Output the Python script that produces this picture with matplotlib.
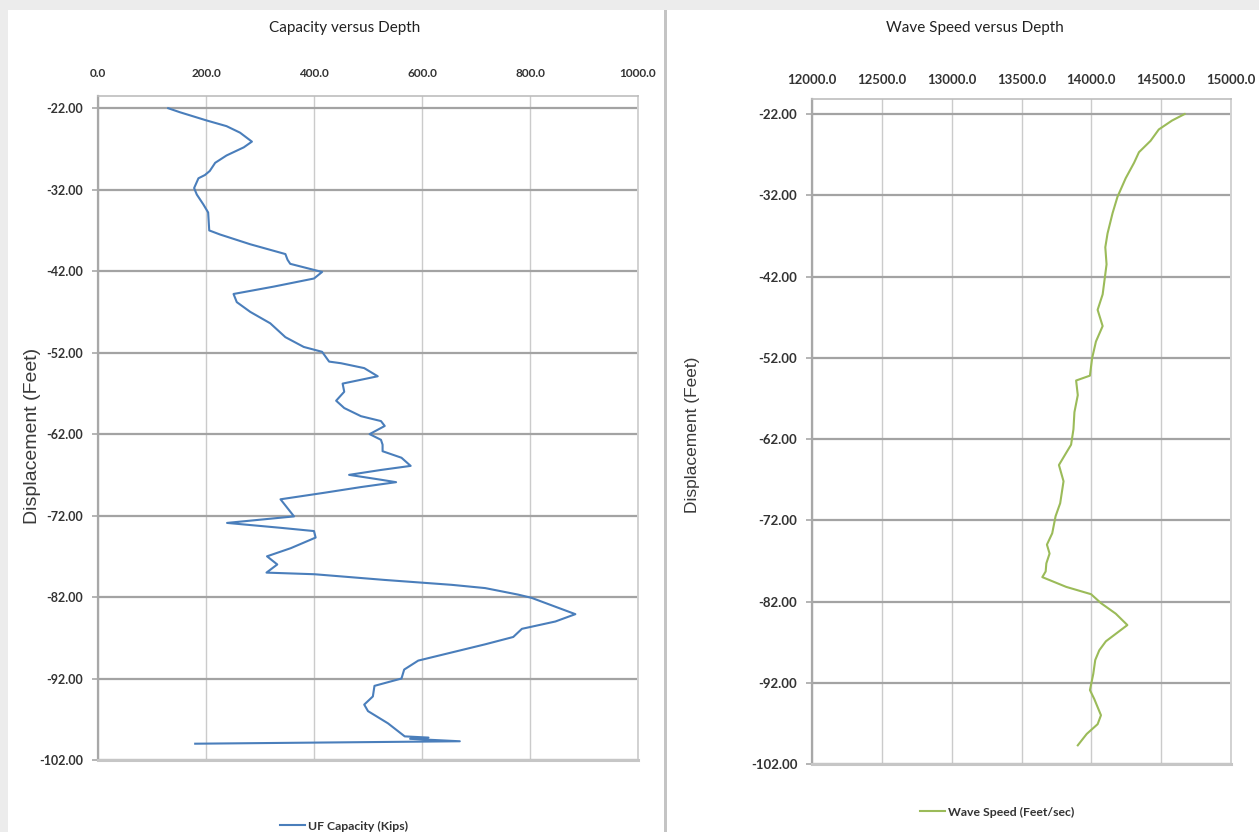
import matplotlib
matplotlib.use("Agg")
import matplotlib.pyplot as plt
from matplotlib.patches import Rectangle
from matplotlib.ticker import FuncFormatter, FixedLocator

plt.rcParams["axes.unicode_minus"] = False

# ---- Pile capacity profile (kips) vs. displacement (feet) ----
capacity_kips = [
    130, 152, 201, 238, 263, 285, 270, 238, 217, 207, 198, 186, 178, 183, 195, 204,
    206, 226, 282, 347, 351, 356, 415, 400, 325, 251, 257, 282, 319, 347, 381, 415,
    428, 450, 493, 518, 453, 456, 441, 456, 487, 524, 531, 503, 524, 527, 527, 562,
    579, 524, 465, 524, 552, 487, 419, 338, 363, 239, 338, 400, 403, 357, 313, 332,
    312, 401, 531, 655, 717, 778, 803, 884, 847, 785, 769, 717, 655, 593, 567, 562,
    512, 509, 493, 500, 537, 568, 612, 578, 670, 180,
]
capacity_depth_ft = [
    -22.0, -22.5, -23.5, -24.2, -25.0, -26.1, -26.8, -27.8, -28.7, -29.7, -30.2, -30.6,
    -31.8, -32.6, -33.8, -34.8, -37.0, -37.5, -38.7, -39.9, -40.6, -41.1, -42.1, -42.9,
    -43.9, -44.8, -45.8, -47.0, -48.4, -50.1, -51.3, -51.9,
    -53.1, -53.3, -53.9, -54.9, -55.8, -56.8, -57.9, -58.8, -59.8, -60.4, -61.0, -62.0,
    -62.7, -63.3, -64.1, -64.9, -65.9, -66.4, -67.0, -67.6, -67.9, -68.5, -69.2, -70.0,
    -72.1, -72.9, -73.5, -73.9, -74.7, -76.0, -77.0, -78.0, -79.0,
    -79.2, -79.9, -80.5, -80.9, -81.7, -82.1, -84.1, -85.0, -85.9, -86.9, -87.8, -88.8,
    -89.8, -90.9, -92.0, -92.9, -94.2, -95.2, -96.0, -97.5, -99.1, -99.25, -99.4, -99.7,
    -100.0,
]

# ---- Wave speed profile (feet/sec) vs. displacement (feet) ----
wave_speed_fps = [
    14668, 14578, 14483, 14424, 14341, 14306, 14246, 14187, 14152, 14116, 14100, 14109,
    14100, 14081, 14045, 14081, 14033, 14005, 13990, 13891, 13903, 13879, 13872, 13855,
    13820, 13768, 13801, 13777, 13744, 13720, 13682, 13701, 13678, 13673, 13649, 13820,
    13998, 14069, 14175, 14258, 14104, 14057, 14028, 14014, 13990, 14021, 14069, 14045,
    13967, 13903,
]
wave_depth_ft = [
    -22.0, -22.8, -23.9, -25.3, -26.7, -28.0, -29.9, -32.2, -34.2, -36.7, -38.4, -40.5,
    -41.7, -44.2, -46.1, -48.1, -50.0, -52.1, -54.2, -54.8, -56.6, -58.7, -60.8, -62.7,
    -63.7, -65.2, -67.2, -69.9, -71.5, -73.6, -75.0, -76.1, -77.3, -78.3, -79.0, -80.2,
    -81.1, -82.2, -83.5, -84.9, -86.9, -88.0, -89.2, -90.9, -92.9, -94.0, -96.0, -97.1,
    -98.3, -99.7,
]

depth_ticks = [-102, -92, -82, -72, -62, -52, -42, -32, -22]
capacity_ticks = [0, 200, 400, 600, 800, 1000]
speed_ticks = [12000, 12500, 13000, 13500, 14000, 14500, 15000]

titles = ["Capacity versus Depth", "Wave Speed versus Depth"]
y_label = "Displacement (Feet)"
series_labels = ["UF Capacity (Kips)", "Wave Speed (Feet/sec)"]

BLUE = "#4a7ebb"
GREEN = "#9bbb59"
TEXT = "#333333"

W, H = 1259, 832
fig = plt.figure(figsize=(W / 100, H / 100), dpi=100)
fig.patch.set_facecolor("#ececec")


def px_rect(x0, y0, x1, y1, color):
    fig.patches.append(Rectangle((x0 / W, 1 - y1 / H), (x1 - x0) / W, (y1 - y0) / H,
                                 transform=fig.transFigure, facecolor=color,
                                 edgecolor="none", zorder=-10))


# chart panels and the divider between them
px_rect(8, 10, 664, H, "white")
px_rect(664, 10, 667, H, "#c4c4c4")
px_rect(667, 10, W, H, "white")


def axes_px(x0, y0, x1, y1):
    return fig.add_axes([x0 / W, 1 - y1 / H, (x1 - x0) / W, (y1 - y0) / H])


def style(ax, xlim, xticks, ytop, xpad, xsize, ysize):
    ax.set_xlim(*xlim)
    ax.set_ylim(-102, ytop)
    ax.xaxis.set_major_locator(FixedLocator(xticks))
    ax.yaxis.set_major_locator(FixedLocator(depth_ticks))
    ax.xaxis.set_major_formatter(FuncFormatter(lambda v, p: f"{v:.1f}"))
    ax.yaxis.set_major_formatter(FuncFormatter(lambda v, p: f"{v:.2f}"))
    ax.xaxis.tick_top()
    ax.tick_params(axis="x", length=0, pad=xpad, labelsize=xsize, labelcolor=TEXT)
    ax.tick_params(axis="y", length=4, width=1.2, color="#a8a8a8", pad=6.5,
                   labelsize=ysize, labelcolor=TEXT)
    for lab in ax.get_xticklabels() + ax.get_yticklabels():
        lab.set_fontfamily("Lato")
        lab.set_fontweight("bold")
    ax.set_axisbelow(True)
    ax.yaxis.grid(True, color="#a3a3a3", lw=1.6)
    ax.xaxis.grid(True, color="#cbcbcb", lw=1.0)
    ax.spines["top"].set_color("#bdbdbd")
    ax.spines["top"].set_linewidth(1.2)
    ax.spines["left"].set_color("#a8a8a8")
    ax.spines["left"].set_linewidth(1.6)
    ax.spines["bottom"].set_color("#c6c6c6")
    ax.spines["bottom"].set_linewidth(2.2)
    ax.spines["right"].set_color("#d2d2d2")
    ax.spines["right"].set_linewidth(1.4)


ax1 = axes_px(98, 96, 638, 760)
ax1.plot(capacity_kips, capacity_depth_ft, color=BLUE, lw=1.5,
         solid_joinstyle="round", label=series_labels[0])
style(ax1, (0, 1000), capacity_ticks, -20.5, 12.5, 8.5, 9)

ax2 = axes_px(812, 99, 1231, 764)
ax2.plot(wave_speed_fps, wave_depth_ft, color=GREEN, lw=1.5,
         solid_joinstyle="round", label=series_labels[1])
style(ax2, (12000, 15000), speed_ticks, -20.15, 9.5, 9.5, 9.5)

# titles and axis labels
fig.text(345 / W, 1 - 28 / H, titles[0], ha="center", va="center",
         fontsize=11, family="Lato", color="#222222")
fig.text(975 / W, 1 - 28 / H, titles[1], ha="center", va="center",
         fontsize=11, family="Lato", color="#222222")
fig.text(33 / W, 1 - 436 / H, y_label, rotation=90, ha="center", va="center",
         fontsize=14, family="Liberation Sans", color="#3a3a3a")
fig.text(692 / W, 1 - 435 / H, y_label, rotation=90, ha="center", va="center",
         fontsize=12.5, family="Liberation Sans", color="#3a3a3a")

# legends
for ax, (cx, cy), size in ((ax1, (344, 826), 8.8), (ax2, (997, 812), 8.8)):
    leg = ax.legend(loc="center", bbox_to_anchor=(cx / W, 1 - cy / H),
                    bbox_transform=fig.transFigure, frameon=False,
                    prop=dict(family="Lato", weight="bold", size=size),
                    handlelength=2.0, handletextpad=0.25, borderpad=0)
    for t in leg.get_texts():
        t.set_color(TEXT)

fig.savefig("out.png", dpi=100, facecolor=fig.get_facecolor())
